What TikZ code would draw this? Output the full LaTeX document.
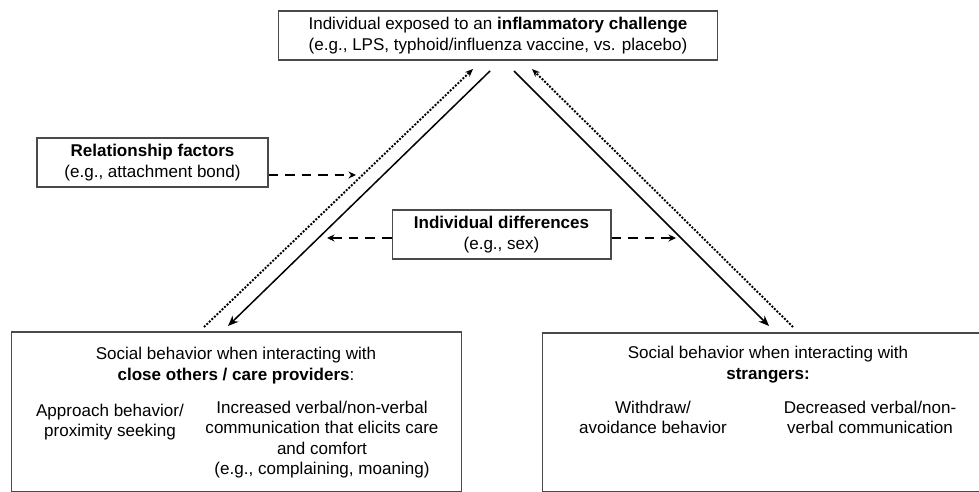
\documentclass[tikz,border=0pt]{standalone}
\usepackage{fontspec}
\setmainfont{Liberation Sans}
\usetikzlibrary{arrows.meta,positioning}
\definecolor{FrameInk}{HTML}{4A4A4A}
\tikzset{
  figure/.style={x=0.02cm,y=-0.02cm,font=\fontsize{9.7}{11.6}\selectfont},
  box/.style={draw=FrameInk,line width=0.6pt,align=center,inner sep=0pt},
  lbl/.style={align=center,inner sep=0pt},
  effect/.style={-{Stealth[length=2.1mm,width=1.7mm]},line width=0.85pt},
  feedback/.style={-{Stealth[length=1.6mm,width=1.3mm]},line width=1.1pt,
    dash pattern=on 1.1pt off 0.9pt},
  moderator/.style={-{Stealth[length=1.5mm,width=1.4mm]},line width=1.1pt,
    dash pattern=on 5.6pt off 3.8pt},
}

\begin{document}
\begin{tikzpicture}[figure]
  \useasboundingbox (0,0) rectangle (979,492);
  \clip (0,0) rectangle (979,492);

  % challenge at the top
  \node[box,minimum width=8.8cm,minimum height=0.98cm] (challenge) at (498,35.5)
    {Individual exposed to an \textbf{inflammatory challenge}\\
     (e.g., LPS, typhoid/influenza vaccine, vs. placebo)};

  % moderators
  \node[box,minimum width=4.62cm,minimum height=0.98cm] (rel) at (152.5,162.5)
    {\textbf{Relationship factors}\\(e.g., attachment bond)};
  \node[box,minimum width=4.38cm,minimum height=0.98cm] (ind) at (501.5,234.5)
    {\textbf{Individual differences}\\(e.g., sex)};

  % the two outcome panels (run off the bottom edge)
  \node[box,minimum width=9.02cm,minimum height=3.19cm] (close) at (236.5,411.75) {};
  \node[box,minimum width=9.04cm,minimum height=3.17cm] (strangers) at (768,412.25) {};

  \node[lbl] (closehead) at (236,365.5)
    {Social behavior when interacting with\\\textbf{close others / care providers}:};
  \node[lbl] (approach) at (110,422) {Approach behavior/\\proximity seeking};
  \node[lbl] (verbal) at (322,439.5)
    {Increased verbal/non-verbal\\communication that elicits care\\and comfort\\
     (e.g., complaining, moaning)};

  \node[lbl] (strangerhead) at (768,364.5)
    {Social behavior when interacting with\\\textbf{strangers:}};
  \node[lbl] (withdraw) at (653,417.5) {Withdraw/\\avoidance behavior};
  \node[lbl] (decreased) at (870,417.5) {Decreased verbal/non-\\verbal communication};

  % ends of the diagonal links
  \coordinate (outL) at (490,71);
  \coordinate (inL) at (228,326);
  \coordinate (backL) at (204,327);
  \coordinate (tipL) at (473,69);
  \coordinate (outR) at (514,71);
  \coordinate (inR) at (769,326);
  \coordinate (backR) at (793,327);
  \coordinate (tipR) at (532,69);

  \draw[effect] (outL) -- (inL);
  \draw[feedback] (backL) -- (tipL);
  \draw[effect] (outR) -- (inR);
  \draw[feedback] (backR) -- (tipR);

  % dashed moderator arrows
  \coordinate (relhit) at (356,175);
  \coordinate (indhitL) at (327,238);
  \coordinate (indhitR) at (676,238);
  \draw[moderator] (rel.east |- relhit) -- (relhit);
  \draw[moderator] (ind.west |- indhitL) -- (indhitL);
  \draw[moderator] (ind.east |- indhitR) -- (indhitR);
\end{tikzpicture}
\end{document}
